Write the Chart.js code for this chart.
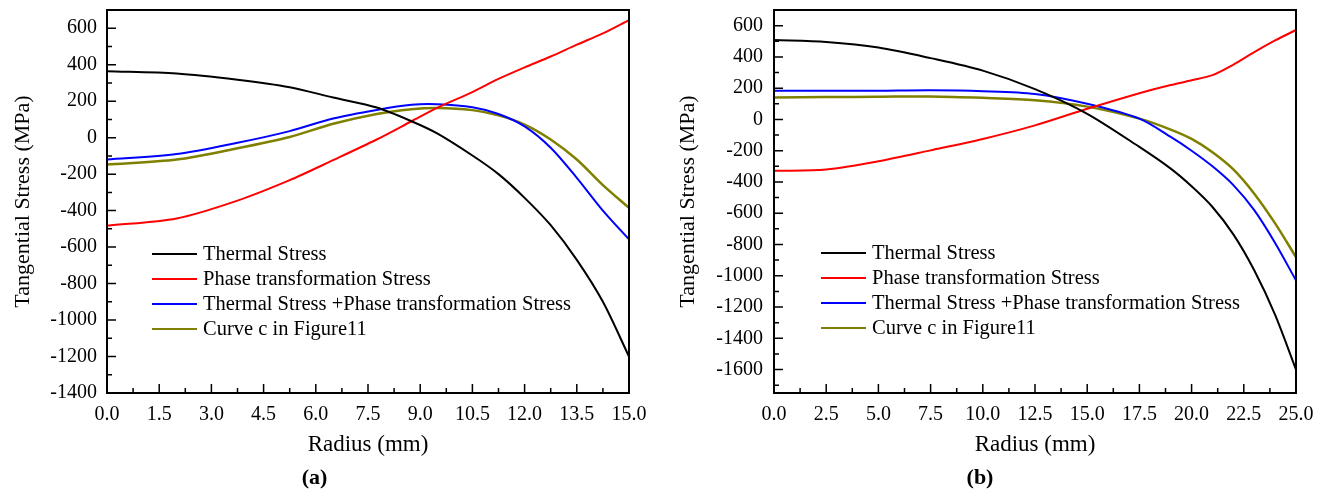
<!DOCTYPE html>
<html>
<head>
<meta charset="utf-8">
<script src="https://cdn.jsdelivr.net/npm/chart.js@4.4.0/dist/chart.umd.min.js"></script>
<style>
  html, body { margin: 0; padding: 0; background: #fff; }
  #wrap { position: relative; width: 1328px; height: 492px; }
  .painel { position: absolute; top: 0; width: 664px; height: 492px; }
</style>
</head>
<body>
<div id="wrap">
  <div class="painel" style="left:0"><canvas id="graficoA" width="664" height="492"></canvas></div>
  <div class="painel" style="left:664px"><canvas id="graficoB" width="664" height="492"></canvas></div>
</div>
<script>
// Séries comuns
const seriesLabels = [
    'Thermal Stress',
    'Phase transformation Stress',
    'Thermal Stress +Phase transformation Stress',
    'Curve c in Figure11'
];
const seriesColors = ['#000000', '#ff0000', '#0000ff', '#808000'];

// (a) - raio 15 mm
const radiusA = [0, 2, 3.75, 5.25, 6.5, 7.75, 8.75, 9.5, 10.5, 11.25, 12, 12.75, 13.5, 14.25, 15];
const thermalA = [364, 352, 318, 277, 220, 165, 90, 22, -98, -200, -330, -480, -670, -900, -1200];
const phaseA = [-483, -443, -345, -233, -123, -10, 90, 165, 250, 322, 385, 445, 510, 572, 645];
const sumA = [-120, -90, -28, 36, 105, 152, 180, 183, 167, 130, 62, -55, -220, -400, -558];
const curveCA = [-147, -120, -58, 4, 76, 130, 156, 163, 151, 122, 72, -10, -120, -260, -385];
const xTicksA = [0, 1.5, 3, 4.5, 6, 7.5, 9, 10.5, 12, 13.5, 15];
const yTicksA = [-1400, -1200, -1000, -800, -600, -400, -200, 0, 200, 400, 600];

// (b) - raio 25 mm
const radiusB = [0, 2.5, 5, 7.5, 10, 12.5, 15, 17.5, 19, 20, 21, 22, 23, 24, 25];
const thermalB = [508, 495, 460, 392, 312, 194, 36, -176, -315, -428, -560, -735, -965, -1250, -1600];
const phaseB = [-329, -320, -268, -198, -125, -38, 68, 168, 220, 250, 283, 350, 430, 505, 572];
const sumB = [183, 183, 184, 187, 181, 163, 100, 5, -112, -200, -300, -420, -580, -790, -1030];
const curveCB = [141, 143, 145, 147, 138, 123, 82, 5, -65, -125, -210, -320, -475, -665, -881];
const xTicksB = [0, 2.5, 5, 7.5, 10, 12.5, 15, 17.5, 20, 22.5, 25];
const yTicksB = [-1600, -1400, -1200, -1000, -800, -600, -400, -200, 0, 200, 400, 600];

Chart.defaults.font.family = '"Liberation Serif", "Times New Roman", serif';
Chart.defaults.color = '#000';

function pontos(xs, ys) {
    return xs.map((x, i) => ({ x: x, y: ys[i] }));
}

function montarDatasets(xs, listas) {
    return listas.map((ys, i) => ({
        label: seriesLabels[i],
        data: pontos(xs, ys),
        borderColor: seriesColors[i],
        backgroundColor: seriesColors[i],
        borderWidth: i === 3 ? 2.5 : 2,
        pointRadius: 0,
        tension: 0.3,
        fill: false
    }));
}

// moldura com ticks para dentro
const moldura = {
    id: 'moldura',
    afterDatasetsDraw(chart) {
        const { ctx, chartArea: a, scales: { x, y } } = chart;
        ctx.save();
        ctx.strokeStyle = '#000';
        ctx.lineWidth = 1.5;
        ctx.beginPath();
        const marcar = (scale, vertical) => {
            const vals = scale.ticks.map(t => t.value);
            const passo = vals[1] - vals[0];
            const menores = [];
            vals.forEach(v => menores.push(v + passo / 2));
            menores.push(vals[0] - passo / 2);
            vals.forEach(v => {
                const p = scale.getPixelForValue(v);
                if (vertical) { ctx.moveTo(a.left, p); ctx.lineTo(a.left + 9, p); }
                else { ctx.moveTo(p, a.bottom); ctx.lineTo(p, a.bottom - 9); }
            });
            menores.filter(v => v > scale.min && v < scale.max).forEach(v => {
                const p = scale.getPixelForValue(v);
                if (vertical) { ctx.moveTo(a.left, p); ctx.lineTo(a.left + 5, p); }
                else { ctx.moveTo(p, a.bottom); ctx.lineTo(p, a.bottom - 5); }
            });
        };
        marcar(x, false);
        marcar(y, true);
        ctx.stroke();
        ctx.lineWidth = 2;
        ctx.strokeRect(a.left, a.top, a.right - a.left, a.bottom - a.top);
        ctx.restore();
    }
};

// legenda dentro da área do gráfico
const legendaInterna = {
    id: 'legendaInterna',
    afterDraw(chart, args, opts) {
        const ctx = chart.ctx;
        ctx.save();
        ctx.font = '20.5px "Liberation Serif", "Times New Roman", serif';
        ctx.textBaseline = 'middle';
        chart.data.datasets.forEach((ds, i) => {
            const yy = opts.y + i * 25;
            ctx.strokeStyle = ds.borderColor;
            ctx.lineWidth = 2;
            ctx.beginPath();
            ctx.moveTo(opts.x, yy);
            ctx.lineTo(opts.x + 45, yy);
            ctx.stroke();
            ctx.fillStyle = '#000';
            ctx.fillText(ds.label, opts.x + 51, yy + 1);
        });
        ctx.restore();
    }
};

// Gráfico (a)
const ctxA = document.getElementById('graficoA').getContext('2d');
new Chart(ctxA, {
    type: 'line',
    data: { datasets: montarDatasets(radiusA, [thermalA, phaseA, sumA, curveCA]) },
    plugins: [moldura, legendaInterna],
    options: {
        responsive: false,
        animation: false,
        layout: { padding: { top: 10, right: 35, bottom: 0, left: 0 } },
        scales: {
            x: {
                type: 'linear', min: 0, max: 15,
                afterBuildTicks: s => { s.ticks = xTicksA.map(v => ({ value: v })); },
                afterFit: s => { s.height = 72.6; s.paddingLeft = 0; s.paddingRight = 0; },
                grid: { display: false, drawTicks: false }, border: { display: false },
                ticks: { padding: 10, font: { size: 20 }, maxRotation: 0, autoSkip: false, callback: v => v.toFixed(1) },
                title: { display: true, text: 'Radius (mm)', font: { size: 23 }, padding: { top: 0, bottom: 7 } }
            },
            y: {
                min: -1400, max: 700,
                afterBuildTicks: s => { s.ticks = yTicksA.map(v => ({ value: v })); },
                afterFit: s => { s.width = 107; s.paddingTop = 0; s.paddingBottom = 0; },
                grid: { display: false, drawTicks: false }, border: { display: false },
                ticks: { padding: 10, font: { size: 20 }, callback: v => String(v) },
                title: { display: true, text: 'Tangential Stress (MPa)', font: { size: 22 }, padding: { top: 10, bottom: 0 } }
            }
        },
        plugins: {
            legend: { display: false },
            tooltip: { enabled: false },
            title: { display: true, position: 'bottom', text: '(a)', font: { size: 22, weight: 'bold' }, padding: { top: 0, bottom: 0 } },
            legendaInterna: { x: 152, y: 254 }
        }
    }
});

// Gráfico (b)
const ctxB = document.getElementById('graficoB').getContext('2d');
new Chart(ctxB, {
    type: 'line',
    data: { datasets: montarDatasets(radiusB, [thermalB, phaseB, sumB, curveCB]) },
    plugins: [moldura, legendaInterna],
    options: {
        responsive: false,
        animation: false,
        layout: { padding: { top: 10, right: 32, bottom: 0, left: 0 } },
        scales: {
            x: {
                type: 'linear', min: 0, max: 25,
                afterBuildTicks: s => { s.ticks = xTicksB.map(v => ({ value: v })); },
                afterFit: s => { s.height = 72.6; s.paddingLeft = 0; s.paddingRight = 0; },
                grid: { display: false, drawTicks: false }, border: { display: false },
                ticks: { padding: 10, font: { size: 20 }, maxRotation: 0, autoSkip: false, callback: v => v.toFixed(1) },
                title: { display: true, text: 'Radius (mm)', font: { size: 23 }, padding: { top: 0, bottom: 7 } }
            },
            y: {
                min: -1750, max: 700,
                afterBuildTicks: s => { s.ticks = yTicksB.map(v => ({ value: v })); },
                afterFit: s => { s.width = 110; s.paddingTop = 0; s.paddingBottom = 0; },
                grid: { display: false, drawTicks: false }, border: { display: false },
                ticks: { padding: 11, font: { size: 20 }, callback: v => String(v) },
                title: { display: true, text: 'Tangential Stress (MPa)', font: { size: 22 }, padding: { top: 11, bottom: 0 } }
            }
        },
        plugins: {
            legend: { display: false },
            tooltip: { enabled: false },
            title: { display: true, position: 'bottom', text: '(b)', font: { size: 22, weight: 'bold' }, padding: { top: 0, bottom: 0 } },
            legendaInterna: { x: 157, y: 253 }
        }
    }
});
</script>
</body>
</html>
